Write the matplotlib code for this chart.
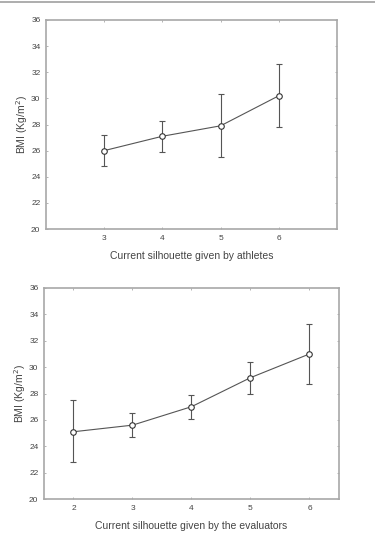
import numpy as np
import matplotlib.pyplot as plt
from matplotlib.lines import Line2D

plt.rcParams['font.family'] = ['Liberation Sans', 'DejaVu Sans']

# athletes panel
x_ath = [3, 4, 5, 6]
bmi_ath = [26.0, 27.1, 27.9, 30.2]
low_ath = [24.8, 25.9, 25.5, 27.8]
high_ath = [27.2, 28.3, 30.3, 32.6]

# evaluators panel
x_eva = [2, 3, 4, 5, 6]
bmi_eva = [25.1, 25.6, 27.0, 29.2, 31.0]
low_eva = [22.8, 24.7, 26.1, 28.0, 28.7]
high_eva = [27.5, 26.5, 27.9, 30.4, 33.3]

y_ticks = [20, 22, 24, 26, 28, 30, 32, 34, 36]

fig = plt.figure(figsize=(3.75, 5.33), dpi=100)

# thin grey rule along the top of the page
fig.add_artist(Line2D([0, 1], [0.997, 0.997], color='#a0a0a0', lw=1.2,
                      transform=fig.transFigure))

spine_col = '#a8a8a8'
line_col = '#555555'
text_col = '#444444'


def panel(ax, x, y, lo, hi, xlim, xlabel):
    y = np.array(y)
    err = [y - np.array(lo), np.array(hi) - y]
    ax.errorbar(x, y, yerr=err, color=line_col, lw=0.8, elinewidth=0.8,
                capsize=2.5, capthick=0.8, marker='o', ms=4,
                mfc='white', mec='#333333', mew=0.8)
    ax.set_xlim(*xlim)
    ax.set_ylim(20, 36)
    ax.set_xticks(x)
    ax.set_yticks(y_ticks)
    ax.tick_params(direction='in', length=1.5, width=0.6, colors=spine_col,
                   labelcolor=text_col, labelsize=6, top=True, right=True, pad=4)
    for s in ax.spines.values():
        s.set_color(spine_col)
        s.set_linewidth(1.2)
    ax.set_ylabel('BMI (Kg/m$^2$)', fontsize=7.5, color=text_col, labelpad=1)
    ax.set_xlabel(xlabel, fontsize=7.5, color=text_col, labelpad=7)


ax1 = fig.add_axes([46 / 375, 1 - 229 / 533, 291 / 375, 209 / 533])
panel(ax1, x_ath, bmi_ath, low_ath, high_ath, (2, 7),
      'Current silhouette given by athletes')

ax2 = fig.add_axes([44 / 375, 1 - 499 / 533, 295 / 375, 211 / 533])
panel(ax2, x_eva, bmi_eva, low_eva, high_eva, (1.5, 6.5),
      'Current silhouette given by the evaluators')

fig.savefig('out.png', dpi=100)
